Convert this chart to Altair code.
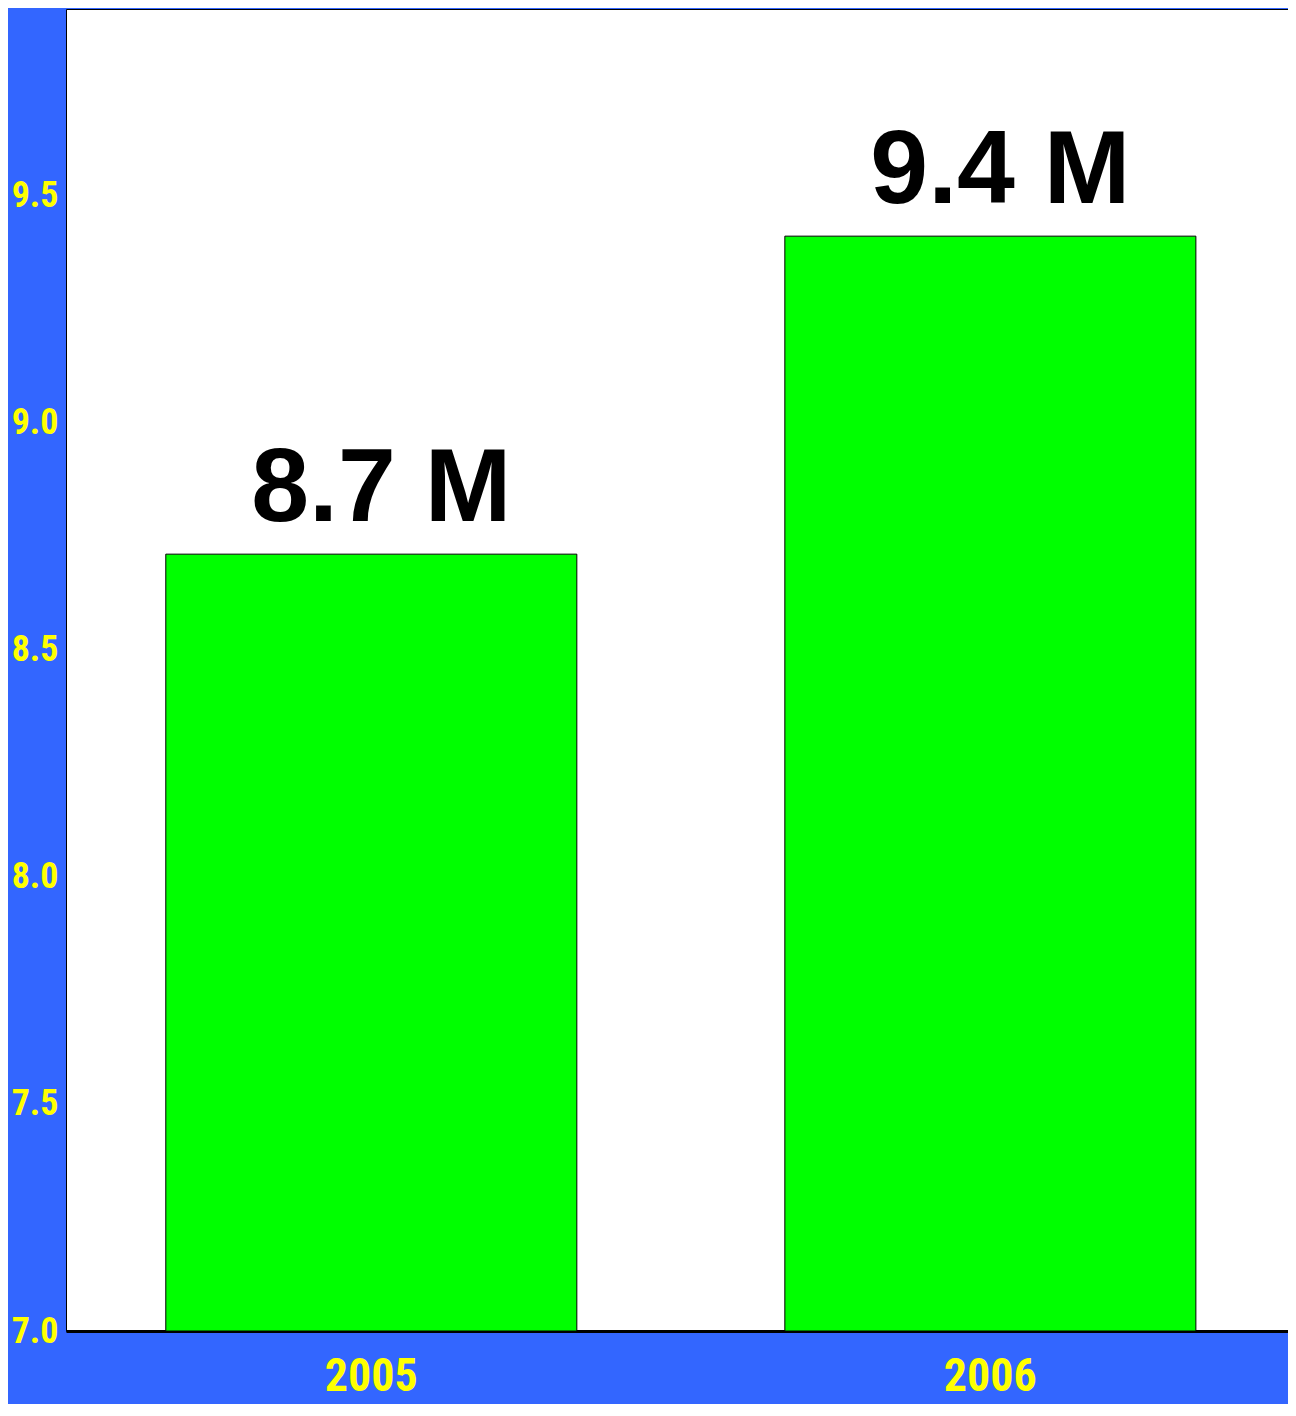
import altair as alt
import pandas as pd

years = ["2005", "2006"]
values = [8.71, 9.41]
labels = ["8.7 M", "9.4 M"]
y_ticks = [7.0, 7.5, 8.0, 8.5, 9.0, 9.5]

df = pd.DataFrame({"year": years, "value": values, "label": labels})

BLUE = "#3366FF"
YELLOW = "#FFFF00"
GREEN = "#00FF00"
NARROW = "'Liberation Sans Narrow', 'Roboto Condensed', 'DejaVu Sans Condensed', sans-serif"

x_enc = alt.X(
    "year:N",
    sort=years,
    scale=alt.Scale(paddingInner=0.336, paddingOuter=0.155, align=0.52),
    axis=alt.Axis(
        title=None,
        labelAngle=0,
        labelColor=YELLOW,
        labelFont=NARROW,
        labelFontSize=46,
        labelFontWeight="bold",
        labelPadding=23,
        labelBaseline="top",
        ticks=False,
        domain=True,
        domainColor="black",
        domainWidth=3,
        grid=False,
    ),
)

y_scale = alt.Scale(domain=[7.0, 9.91], zero=False, nice=False)

bars = alt.Chart(df).mark_bar(
    color=GREEN, stroke="black", strokeWidth=1
).encode(
    x=x_enc,
    y=alt.Y(
        "value:Q",
        scale=y_scale,
        axis=alt.Axis(
            title=None,
            values=y_ticks,
            format=".1f",
            labelColor=YELLOW,
            labelFont=NARROW,
            labelFontSize=36,
            labelFontWeight="bold",
            labelPadding=8,
            labelBaseline="middle",
            ticks=False,
            domain=False,
            grid=False,
        ),
    ),
    y2=alt.datum(7.0),
)

text = alt.Chart(df).mark_text(
    font="'Liberation Sans', Arial, sans-serif",
    fontSize=104,
    fontWeight="bold",
    color="black",
    baseline="alphabetic",
    align="center",
    dy=-33,
    dx=10,
).encode(
    x=alt.X("year:N", sort=years),
    y=alt.Y("value:Q", scale=y_scale),
    text="label:N",
)

chart = (
    alt.layer(bars, text)
    .properties(
        width=1222,
        height=1322,
        background=BLUE,
        padding={"left": 58, "top": 1, "right": 0, "bottom": 73},
        autosize=alt.AutoSizeParams(type="none"),
    )
    .configure_view(fill="white", stroke="black", strokeWidth=1)
)

chart.save("out.html", embed_options={"renderer": "svg", "actions": False})
